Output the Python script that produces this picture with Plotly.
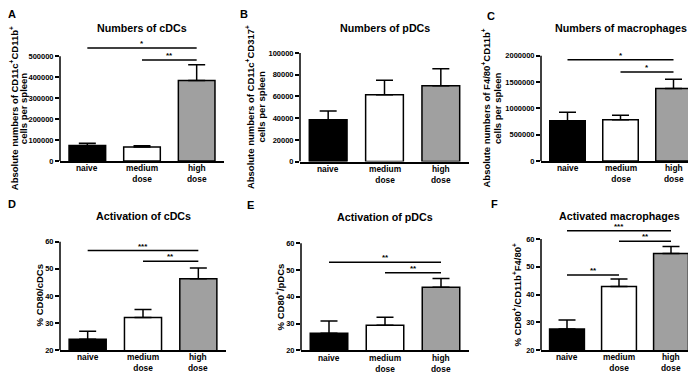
import plotly.graph_objects as go

# ---------------- data ----------------
CATEGORIES = ["naive", "medium<br>dose", "high<br>dose"]
BAR_COLORS = ["#000000", "#ffffff", "#a0a0a0"]

CDC_NUM_MEAN = [74000, 66000, 385000]
CDC_NUM_ERR = [11000, 6000, 75000]

PDC_NUM_MEAN = [38500, 61500, 70000]
PDC_NUM_ERR = [8200, 13500, 15500]

MAC_NUM_MEAN = [765000, 780000, 1375000]
MAC_NUM_ERR = [160000, 90000, 175000]

CDC_ACT_MEAN = [24.0, 32.0, 46.3]
CDC_ACT_ERR = [3.0, 3.0, 4.0]

PDC_ACT_MEAN = [26.4, 29.4, 43.6]
PDC_ACT_ERR = [4.6, 3.0, 3.3]

MAC_ACT_MEAN = [27.6, 42.9, 54.8]
MAC_ACT_ERR = [3.3, 2.7, 2.5]

TICKS_A = [0, 100000, 200000, 300000, 400000, 500000]
TICKS_B = [0, 20000, 40000, 60000, 80000, 100000]
TICKS_C = [0, 500000, 1000000, 1500000, 2000000]
TICKS_PCT = [20, 30, 40, 50, 60]

# significance comparisons: (from category, to category, label, bracket height)
SIG_A = [(0, 2, "*", 540000), (1, 2, "**", 482000)]
SIG_B = []
SIG_C = [(0, 2, "*", 1920000), (1, 2, "*", 1690000)]
SIG_D = [(0, 2, "***", 56.7), (1, 2, "**", 52.8)]
SIG_E = [(0, 2, "**", 52.9), (1, 2, "**", 49.0)]
SIG_F = [(0, 2, "***", 63.0), (1, 2, "**", 59.2), (0, 1, "**", 47.1)]

LETTERS = ["A", "B", "C", "D", "E", "F"]
TITLES = ["Numbers of cDCs", "Numbers of pDCs", "Numbers of macrophages",
          "Activation of cDCs", "Activation of pDCs", "Activated macrophages"]
YTITLES = [
    ["Absolute numbers of CD11c<sup>+</sup>CD11b<sup>+</sup>", "cells per spleen"],
    ["Absolute numbers of CD11c<sup>+</sup>CD317<sup>+</sup>", "cells per spleen"],
    ["Absolute numbers of F4/80<sup>+</sup>CD11b<sup>+</sup>", "cells per spleen"],
    ["% CD80/cDCs"],
    ["% CD80<sup>+</sup>/pDCs"],
    ["% CD80<sup>+</sup>/CD11b<sup>+</sup>F4/80<sup>+</sup>"],
]

# ---------------- layout geometry (pixels) ----------------
W, H = 696, 373
FONT = "Liberation Sans, Arial, sans-serif"
R2 = -2.5  # small upward shift of the bottom row so its labels fit the page

panels = [
    dict(mean=CDC_NUM_MEAN, err=CDC_NUM_ERR, ticks=TICKS_A, sig=SIG_A,
         x0=52, x1=216, ytick=49, ybot=155, dtop=26,
         letter=(4, 6), title_y=20, ytitle_x=10.5, ysp=10),
    dict(mean=PDC_NUM_MEAN, err=PDC_NUM_ERR, ticks=TICKS_B, sig=SIG_B,
         x0=292, x1=461, ytick=45.7, ybot=155.7, dtop=40,
         letter=(236, 6), title_y=20, ytitle_x=248, ysp=10.5),
    dict(mean=MAC_NUM_MEAN, err=MAC_NUM_ERR, ticks=TICKS_C, sig=SIG_C,
         x0=533, x1=692, ytick=48.3, ybot=155, dtop=38,
         letter=(483, 8), title_y=20, ytitle_x=484, ysp=11.5),
    dict(mean=CDC_ACT_MEAN, err=CDC_ACT_ERR, ticks=TICKS_PCT, sig=SIG_D,
         x0=52, x1=218, ytick=239.3 + R2, ybot=349.3 + R2, dtop=233 + R2,
         letter=(4, 201 + R2), title_y=213.5 + R2, ytitle_x=31.5, ysp=0),
    dict(mean=PDC_ACT_MEAN, err=PDC_ACT_ERR, ticks=TICKS_PCT, sig=SIG_E,
         x0=293, x1=461, ytick=241 + R2, ybot=349.6 + R2, dtop=235 + R2,
         letter=(242, 202 + R2), title_y=214.5 + R2, ytitle_x=271.5, ysp=0),
    dict(mean=MAC_ACT_MEAN, err=MAC_ACT_ERR, ticks=TICKS_PCT, sig=SIG_F,
         x0=533, x1=689, ytick=236.7 + R2, ybot=349.3 + R2, dtop=219 + R2,
         letter=(486, 201 + R2), title_y=213.5 + R2, ytitle_x=509, ysp=0),
]
CAT_TOP_OFFSET = 2.2   # px between the x axis and the top of category labels

fig = go.Figure()
shapes = []
annotations = []
layout = dict(
    width=W, height=H, margin=dict(l=0, r=0, t=0, b=0),
    paper_bgcolor="white", plot_bgcolor="white", showlegend=False,
    font=dict(family=FONT, color="black"),
)

for n, p in enumerate(panels, start=1):
    sfx = "" if n == 1 else str(n)
    xa, ya = "x" + sfx, "y" + sfx
    v0, vt = p["ticks"][0], p["ticks"][-1]
    per_px = (vt - v0) / (p["ybot"] - p["ytick"])
    vmax = vt + (p["ytick"] - p["dtop"]) * per_px

    fig.add_trace(go.Bar(
        x=[0, 1, 2], y=p["mean"], xaxis=xa, yaxis=ya, width=0.67,
        marker=dict(color=BAR_COLORS, line=dict(color="black", width=1.5)),
        error_y=dict(type="data", array=p["err"], arrayminus=[0, 0, 0],
                     symmetric=False, color="black", thickness=1.5, width=8.5),
        hoverinfo="skip",
    ))

    layout["xaxis" + sfx] = dict(
        domain=[p["x0"] / W, p["x1"] / W], anchor=ya, range=[-0.5, 2.5],
        tickvals=[0, 1, 2], showticklabels=False, showline=True, linecolor="black",
        linewidth=1.5, ticks="", showgrid=False, zeroline=False, fixedrange=True,
    )
    layout["yaxis" + sfx] = dict(
        domain=[1 - p["ybot"] / H, 1 - p["dtop"] / H], anchor=xa, range=[v0, vmax],
        tickvals=p["ticks"], tickformat="d", showline=False, ticks="outside",
        ticklen=4, tickwidth=1.5, tickcolor="black", showgrid=False, zeroline=False,
        fixedrange=True, tickfont=dict(family=FONT, size=7.5, weight="bold", color="black"),
    )
    # y axis line only up to the top tick
    shapes.append(dict(type="line", xref=xa + " domain", yref=ya, x0=0, x1=0,
                       y0=v0, y1=vt, line=dict(color="black", width=1.5)))
    # category labels
    for ci, txt in enumerate(CATEGORIES):
        annotations.append(dict(xref=xa, yref="paper", x=ci,
                                y=1 - (p["ybot"] + CAT_TOP_OFFSET) / H,
                                text=txt, showarrow=False, xanchor="center",
                                yanchor="top", borderpad=0, borderwidth=0,
                                font=dict(family=FONT, size=8.4, weight="bold")))
    # significance brackets
    for (i, j, lab, yv) in p["sig"]:
        shapes.append(dict(type="line", xref=xa, yref=ya, x0=i, x1=j, y0=yv, y1=yv,
                           line=dict(color="black", width=1.5)))
        annotations.append(dict(xref=xa, yref=ya, x=(i + j) / 2, y=yv, text=lab,
                                showarrow=False, xanchor="center", yanchor="bottom",
                                yshift=-2, font=dict(family=FONT, size=8, weight="bold")))
    # title
    annotations.append(dict(xref=xa + " domain", yref="paper", x=0.5,
                            y=1 - p["title_y"] / H, text=TITLES[n - 1], showarrow=False,
                            xanchor="center", yanchor="middle",
                            font=dict(family=FONT, size=10.7, weight="bold")))
    # panel letter
    lx, ly = p["letter"]
    annotations.append(dict(xref="paper", yref="paper", x=lx / W, y=1 - ly / H,
                            text=LETTERS[n - 1], showarrow=False, xanchor="center",
                            yanchor="middle", font=dict(family=FONT, size=11, weight="bold")))
    # y title, one rotated annotation per line
    ylines = YTITLES[n - 1]
    for k, txt in enumerate(ylines):
        xc = p["ytitle_x"] + (k - (len(ylines) - 1) / 2) * p["ysp"]
        annotations.append(dict(xref="paper", yref="paper", x=xc / W,
                                y=1 - (p["ytick"] + p["ybot"]) / 2 / H, text=txt,
                                textangle=-90, showarrow=False, xanchor="center",
                                yanchor="middle",
                                font=dict(family=FONT, size=9.5, weight="bold")))

layout["shapes"] = shapes
layout["annotations"] = annotations
fig.update_layout(**layout)
fig.write_html("out.html", config={"displayModeBar": False})
